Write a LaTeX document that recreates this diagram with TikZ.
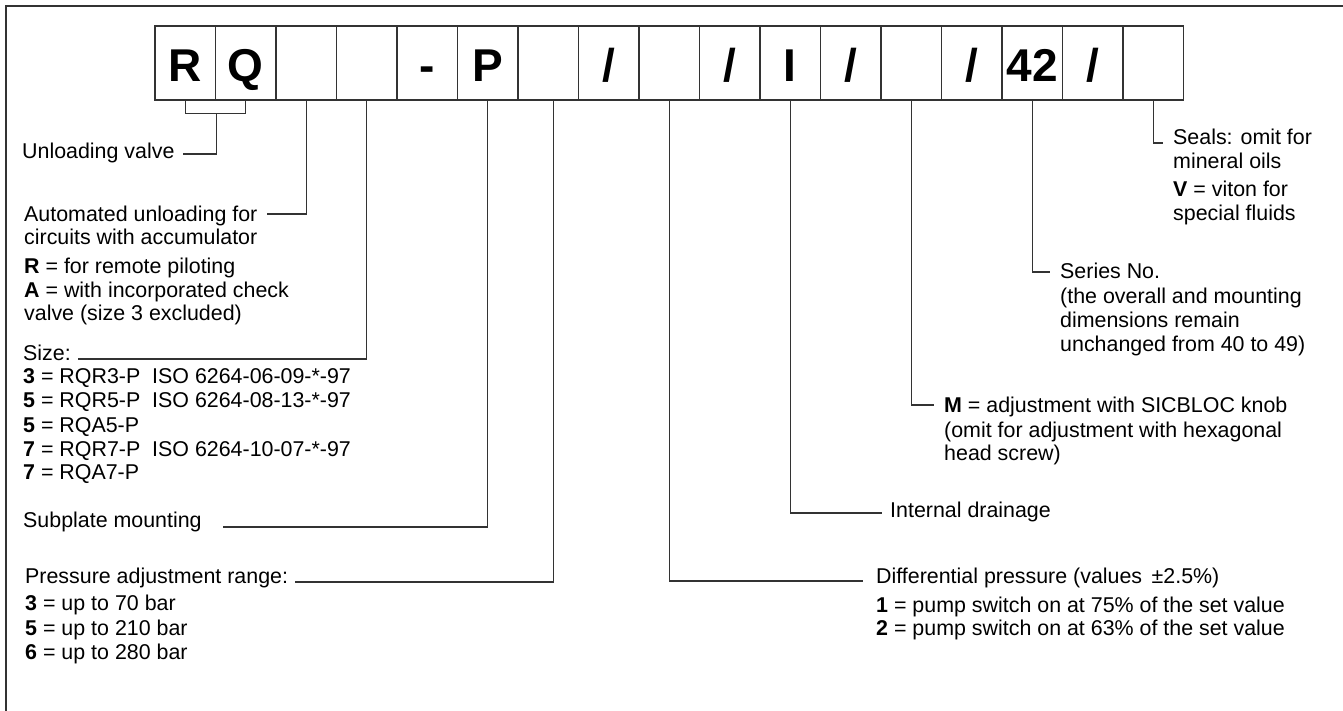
\documentclass[tikz,border=0pt]{standalone}
\usepackage{fontspec}
\setmainfont{Liberation Sans}
\definecolor{linec}{HTML}{333333}
\begin{document}
\begin{tikzpicture}[x=1pt,y=-1pt,
  cell/.style={draw=linec, line width=1.3pt, minimum width=60.5pt, minimum height=74pt, inner sep=0pt},
  letter/.style={inner sep=0pt, text height=33pt, text depth=0pt, font=\fontsize{46}{46}\selectfont\bfseries},
  conn/.style={draw=linec, line width=1.3pt},
  txt/.style={anchor=base west, inner sep=0pt, font=\fontsize{21.4}{24}\selectfont}]
\useasboundingbox (0,0) rectangle (1343,711);
\draw[line width=2pt, draw=linec] (6,711) -- (6,6) -- (1343,6);
% cells
\foreach \i in {1,...,17} \node[cell] (b\i) at ({155+60.5*(\i-0.5)},63) {};
\node[letter] (l1) at ([yshift=-2pt]b1.center) {R};
\node[letter] (l2) at ([yshift=-2pt]b2.center) {Q};
\node[letter] (l5) at ([yshift=-2pt]b5.center) {-};
\node[letter] (l6) at ([yshift=-2pt]b6.center) {P};
\node[letter] (l8) at ([yshift=-2pt]b8.center) {/};
\node[letter] (l10) at ([yshift=-2pt]b10.center) {/};
\node[letter] (l11) at ([yshift=-2pt]b11.center) {I};
\node[letter] (l12) at ([yshift=-2pt]b12.center) {/};
\node[letter] (l14) at ([yshift=-2pt]b14.center) {/};
\node[letter] (l15) at ([yshift=-2pt]b15.center) {42};
\node[letter] (l16) at ([yshift=-2pt]b16.center) {/};
% connector ends
\coordinate (uv) at (183,154);
\coordinate (au) at (267,214);
\coordinate (sz) at (78,359);
\coordinate (sp) at (223,527);
\coordinate (pr) at (295,582);
\coordinate (df) at (863,581);
\coordinate (id) at (882,513);
\coordinate (mm) at (934,405);
\coordinate (sn) at (1050,272);
\coordinate (se) at (1163,143);
% connectors
\draw[conn] (b1.south) -- ++(0,13) -| (b2.south);
\draw[conn] ([yshift=-13pt]b1.south east) |- (uv);
\draw[conn] (b3.south) |- (au);
\draw[conn] (b4.south) |- (sz);
\draw[conn] (b6.south) |- (sp);
\draw[conn] ([xshift=5.5pt]b7.south) |- (pr);
\draw[conn] (b9.south) |- (df);
\draw[conn] (b11.south) |- (id);
\draw[conn] (b13.south) |- (mm);
\draw[conn] (b15.south) |- (sn);
\draw[conn] (b17.south) |- (se);
% left texts
\node[txt] (t1) at (22,159) {Unloading valve};
\node[txt] (t2) at (24,222) {Automated unloading for};
\node[txt] (t3) at (24,245) {circuits with accumulator};
\node[txt] (t4) at (24,273) {\textbf{R} = for remote piloting};
\node[txt] (t5) at (24,297) {\textbf{A} = with incorporated check};
\node[txt] (t6) at (24,320) {valve (size 3 excluded)};
\node[txt] (t7) at (23,360) {Size:};
\node[txt] (t8) at (23,383) {\textbf{3} = RQR3-P\ \ ISO 6264-06-09-*-97};
\node[txt] (t9) at (23,407) {\textbf{5} = RQR5-P\ \ ISO 6264-08-13-*-97};
\node[txt] (t10) at (23,432) {\textbf{5} = RQA5-P};
\node[txt] (t11) at (23,456) {\textbf{7} = RQR7-P\ \ ISO 6264-10-07-*-97};
\node[txt] (t12) at (23,479) {\textbf{7} = RQA7-P};
\node[txt] (t13) at (23,527) {Subplate mounting};
\node[txt] (t14) at (25,583) {Pressure adjustment range:};
\node[txt] (t15) at (25,610) {\textbf{3} = up to 70 bar};
\node[txt] (t16) at (25,635) {\textbf{5} = up to 210 bar};
\node[txt] (t17) at (25,659) {\textbf{6} = up to 280 bar};
% right texts
\node[txt] (r1) at (1173,145) {Seals: omit for};
\node[txt] (r2) at (1173,169) {mineral oils};
\node[txt] (r3) at (1173,197) {\textbf{V} = viton for};
\node[txt] (r4) at (1173,221) {special fluids};
\node[txt] (r5) at (1060,279) {Series No.};
\node[txt] (r6) at (1060,303) {(the overall and mounting};
\node[txt] (r7) at (1060,327) {dimensions remain};
\node[txt] (r8) at (1060,351) {unchanged from 40 to 49)};
\node[txt] (r9) at (944,412) {\textbf{M} = adjustment with SICBLOC knob};
\node[txt] (r10) at (944,437) {(omit for adjustment with hexagonal};
\node[txt] (r11) at (944,460) {head screw)};
\node[txt] (r12) at (890,517) {Internal drainage};
\node[txt] (r13) at (876,583) {Differential pressure (values \,±2.5\%)};
\node[txt] (r14) at (876,612) {\textbf{1} = pump switch on at 75\% of the set value};
\node[txt] (r15) at (876,635) {\textbf{2} = pump switch on at 63\% of the set value};
\end{tikzpicture}
\end{document}
